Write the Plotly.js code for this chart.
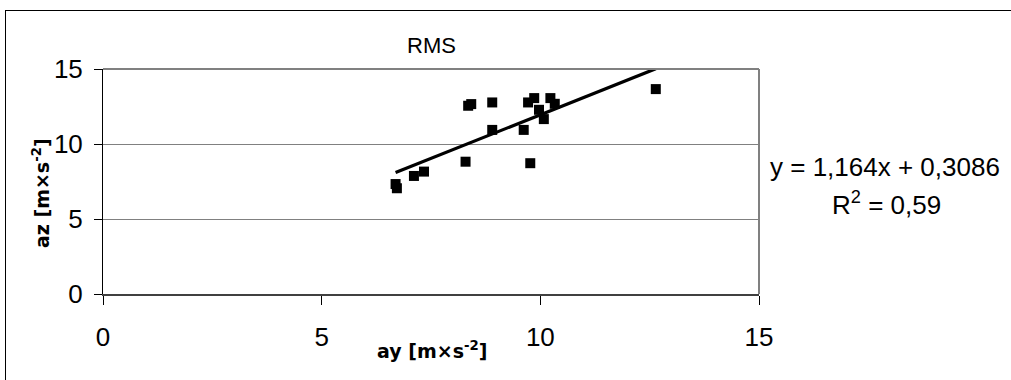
<!DOCTYPE html>
<html>
<head>
<meta charset="utf-8">
<script src="https://cdn.plot.ly/plotly-3.0.1.min.js"></script>
<style>
  html, body { margin: 0; padding: 0; width: 1011px; height: 380px; overflow: hidden; background: #fff; }
  #frame { position: absolute; left: 5px; top: 10px; width: 1100px; height: 500px; border: 1px solid #000; box-sizing: border-box; }
  #chart { position: absolute; left: 0; top: 0; width: 1011px; height: 380px; }
</style>
</head>
<body>
<div id="frame"></div>
<div id="chart"></div>
<script>
// Data
var ay = [6.69, 6.72, 7.11, 7.34, 8.29, 8.35, 8.42, 8.90, 8.90, 9.62, 9.77, 9.72, 9.86, 9.97, 10.08, 10.23, 10.33, 12.64];
var az = [7.33, 7.05, 7.87, 8.16, 8.82, 12.55, 12.66, 12.77, 10.94, 10.94, 8.72, 12.77, 13.06, 12.28, 11.66, 13.06, 12.68, 13.66];
var slope = 1.164;
var intercept = 0.3086;
var xTicks = [0, 5, 10, 15];
var yTicks = [0, 5, 10, 15];
var titleText = "RMS";
var xTitle = "ay [m×s<sup>-2</sup>]";
var yTitle = "az [m×s<sup>-2</sup>]";
var eqText = "y = 1,164x + 0,3086";
var r2Text = "R<sup>2</sup> = 0,59";

var xmin = Math.min.apply(null, ay), xmax = Math.max.apply(null, ay);
var trendX = [xmin, xmax];
var trendY = trendX.map(function (v) { return slope * v + intercept; });

var traces = [
  { x: ay, y: az, type: 'scatter', mode: 'markers',
    marker: { symbol: 'square', size: 10, color: '#000' }, hoverinfo: 'skip' },
  { x: trendX, y: trendY, type: 'scatter', mode: 'lines',
    line: { color: '#000', width: 3.2 }, hoverinfo: 'skip' }
];

var L = 103, R = 759, T = 69.3, B = 293.7;
function px(xp) { return (xp - L) / (R - L); }
function py(yp) { return (B - yp) / (B - T); }

var tickFont = { family: 'Liberation Sans, Arial, sans-serif', size: 26, color: '#000' };
var layout = {
  width: 1011, height: 380,
  margin: { l: L, r: 1011 - R, t: T, b: 380 - B, pad: 0 },
  paper_bgcolor: 'rgba(0,0,0,0)', plot_bgcolor: 'rgba(0,0,0,0)',
  showlegend: false,
  title: { text: '', font: { size: 1 } },
  xaxis: { range: [0, 15], tickvals: xTicks, ticktext: xTicks.map(String), showgrid: false, zeroline: false,
           showline: true, linecolor: '#404040', linewidth: 2, ticks: 'outside', ticklen: 9, tickcolor: '#000', tickwidth: 1,
           ticklabelstandoff: 10, tickfont: tickFont, fixedrange: true },
  yaxis: { range: [0, 15], tickvals: yTicks, ticktext: yTicks.map(String), showgrid: true, gridcolor: '#808080', gridwidth: 1,
           zeroline: false, showline: true, linecolor: '#000', linewidth: 1, ticks: 'outside', ticklen: 8, tickcolor: '#000', tickwidth: 1,
           ticklabelstandoff: 6, tickfont: tickFont, fixedrange: true },
  shapes: [
    { type: 'line', xref: 'paper', yref: 'paper', x0: 1, x1: 1, y0: 0, y1: 1, line: { color: '#808080', width: 2 } },
    { type: 'line', xref: 'paper', yref: 'paper', x0: 0, x1: 1, y0: 1, y1: 1, line: { color: '#808080', width: 2 } }
  ],
  annotations: [
    { text: titleText, xref: 'paper', yref: 'paper', x: px(431), y: py(46), xanchor: 'center', yanchor: 'middle',
      showarrow: false, font: { family: 'Liberation Sans Narrow, Liberation Sans, Arial, sans-serif', size: 22, color: '#000' } },
    { text: eqText, xref: 'paper', yref: 'paper', x: px(885), y: py(167), xanchor: 'center', yanchor: 'middle',
      showarrow: false, font: { family: 'Liberation Sans, Arial, sans-serif', size: 26, color: '#000' } },
    { text: r2Text, xref: 'paper', yref: 'paper', x: px(886), y: py(203), xanchor: 'center', yanchor: 'middle',
      showarrow: false, font: { family: 'Liberation Sans, Arial, sans-serif', size: 26, color: '#000' } },
    { text: '<b>' + xTitle + '</b>', xref: 'paper', yref: 'paper', x: px(432), y: py(350), xanchor: 'center', yanchor: 'middle',
      showarrow: false, font: { family: 'DejaVu Sans, sans-serif', size: 19, color: '#000' } },
    { text: '<b>' + yTitle + '</b>', xref: 'paper', yref: 'paper', x: px(41), y: py(193), xanchor: 'center', yanchor: 'middle',
      textangle: -90, showarrow: false, font: { family: 'DejaVu Sans, sans-serif', size: 19, color: '#000' } }
  ]
};

Plotly.newPlot('chart', traces, layout, { displayModeBar: false, staticPlot: true });
</script>
</body>
</html>
